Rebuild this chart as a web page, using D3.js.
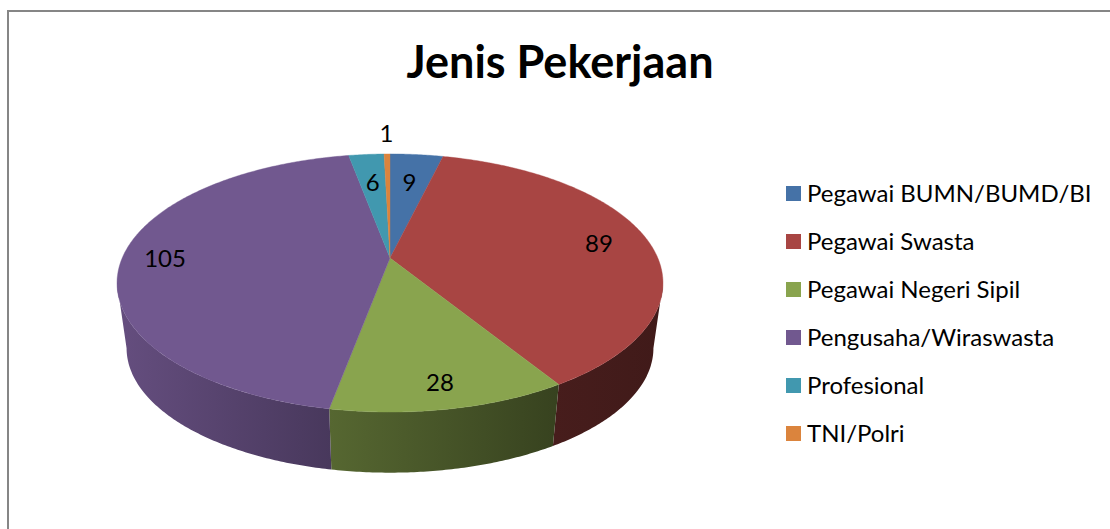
<!DOCTYPE html>
<html>
<head>
<meta charset="utf-8">
<script src="https://cdn.jsdelivr.net/npm/d3@7"></script>
<style>
html,body{margin:0;padding:0;background:#fff;overflow:hidden}
svg{display:block}
text{font-family:Lato,Carlito,"Open Sans",sans-serif;fill:#000}
</style>
</head>
<body>
<svg id="chart" width="1110" height="529"></svg>
<script>
const titleText = "Jenis Pekerjaan";
const categories = ["Pegawai BUMN/BUMD/BI","Pegawai Swasta","Pegawai Negeri Sipil","Pengusaha/Wiraswasta","Profesional","TNI/Polri"];
const values = [9,89,28,105,6,1];
const colors = ["#4572a7","#a84543","#89a44e","#71588f","#4198af","#db843d"];
// side-wall brightness (left edge, right edge) of each slice
const sideShade = [[.4,.4],[.42,.38],[.63,.4],[.89,.64],[.6,.6],[.6,.6]];
// label distance from the pie centre, as a fraction of the radius
const labelRadii = [.7,.81,.85,.84,.7,1.25];

const svg = d3.select("#chart");
const defs = svg.append("defs");

// Frame (only top and left edges are in view)
svg.append("path").attr("d", d3.line()([[8,529],[8,11],[1110,11]]))
  .attr("fill","none").attr("stroke","#868686").attr("stroke-width",2);

svg.append("text").attr("x",560).attr("y",78).attr("text-anchor","middle")
  .attr("font-size",45).attr("font-weight",700).text(titleText);

// Perspective projection of the unit disc
const cx = 390, cy = 258, persp = 0.1938, rxTop = 267.8, ryTop = 124.2;
const lowerScale = 0.965, lowerCy = 324;
const project = (theta, r, level) => {
  const x = Math.sin(theta)*r, y = -Math.cos(theta)*r, d = 1 - persp*y;
  const s = level ? lowerScale : 1;
  return [cx + s*rxTop*x/d, (level ? lowerCy : cy) + s*ryTop*y/d];
};
const arcPoints = (a0, a1, level) => {
  const n = Math.max(2, Math.ceil((a1-a0)/0.01));
  return d3.range(n+1).map(i => project(a0+(a1-a0)*i/n, 1, level));
};
const pie = d3.pie().sort(null).value(d => d)(values);
const line = d3.line();
const shade = (c, k) => { const q = d3.rgb(c); return d3.rgb(q.r*k,q.g*k,q.b*k).formatHex(); };

// Side wall, between the two silhouette tangents of the disc
const frontStart = Math.acos(-persp), frontEnd = 2*Math.PI - frontStart;
pie.forEach((p,i) => {
  const a0 = Math.max(p.startAngle, frontStart), a1 = Math.min(p.endAngle, frontEnd);
  if (a1 <= a0) return;
  const top = arcPoints(a0,a1,0), bottom = arcPoints(a0,a1,1).reverse();
  const xs = top.concat(bottom).map(d => d[0]);
  const g = defs.append("linearGradient").attr("id","side"+i)
    .attr("gradientUnits","userSpaceOnUse")
    .attr("x1",d3.min(xs)).attr("x2",d3.max(xs)).attr("y1",0).attr("y2",0);
  g.append("stop").attr("offset",0).attr("stop-color",shade(colors[i],sideShade[i][0]));
  g.append("stop").attr("offset",1).attr("stop-color",shade(colors[i],sideShade[i][1]));
  svg.append("path").attr("d", line(top.concat(bottom))+"Z")
    .attr("fill",`url(#side${i})`);
});

// Top face
pie.forEach((p,i) => {
  const pts = [[cx,cy]].concat(arcPoints(p.startAngle,p.endAngle,0));
  svg.append("path").attr("d", line(pts)+"Z")
    .attr("fill",colors[i]).attr("stroke",colors[i]).attr("stroke-width",0.4);
});

// Data labels
pie.forEach((p,i) => {
  const [x,y] = project((p.startAngle+p.endAngle)/2, labelRadii[i], 0);
  svg.append("text").attr("x",x).attr("y",y+1).attr("dy","0.35em")
    .attr("text-anchor","middle").attr("font-size",24).text(values[i]);
});

// Legend
const legendY = d3.scalePoint().domain(categories).range([193.5,433.5]);
categories.forEach((c,i) => {
  const y = legendY(c);
  svg.append("rect").attr("x",786).attr("y",y-7.5).attr("width",15).attr("height",15).attr("fill",colors[i]);
  svg.append("text").attr("x",807).attr("y",y+8).attr("font-size",24).text(c);
});
</script>
</body>
</html>
